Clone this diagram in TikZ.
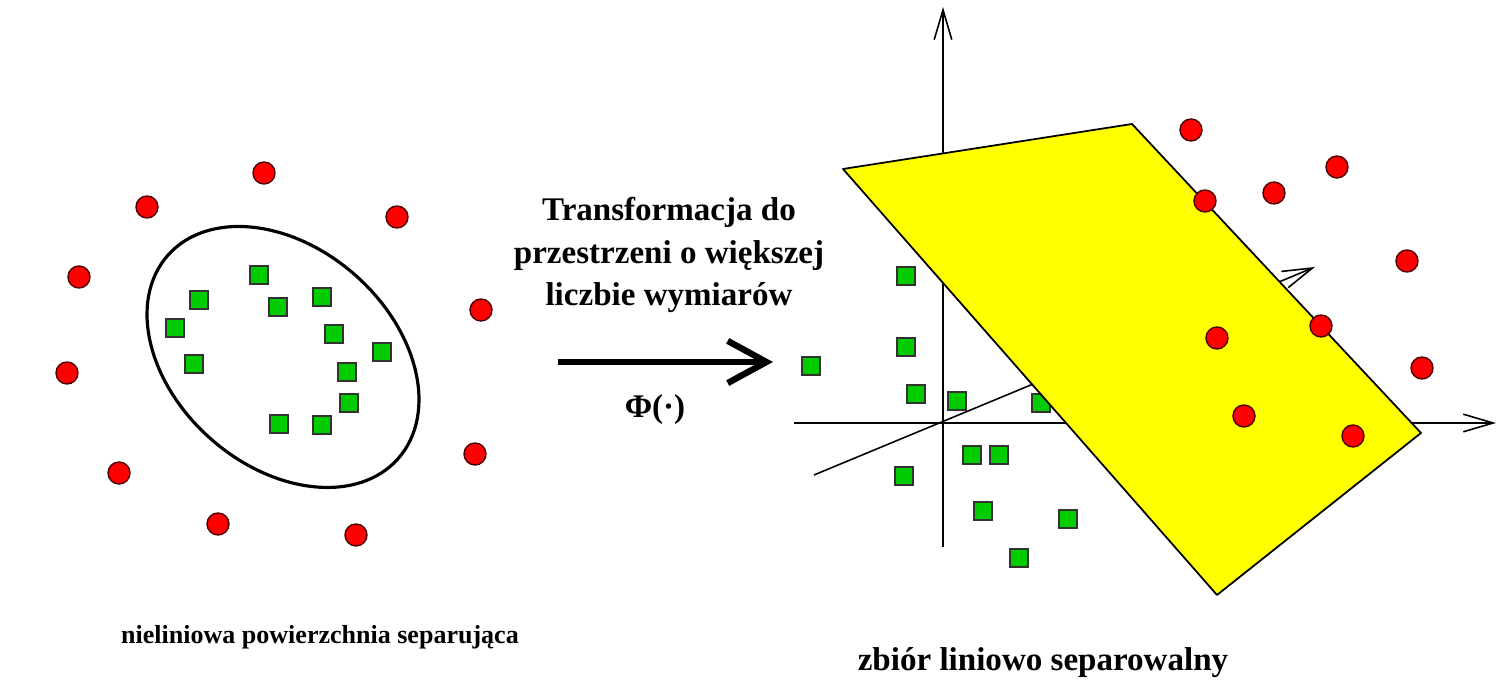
\documentclass[tikz,border=0pt]{standalone}
\usepackage{fontspec}
\setmainfont{Liberation Serif}
\usetikzlibrary{arrows.meta}
\definecolor{ptred}{HTML}{FF0000}
\definecolor{ptgreen}{HTML}{00CC00}
\definecolor{plane}{HTML}{FFFF00}
\tikzset{
  redpt/.style={circle, fill=ptred, draw=black!70!red, line width=0.4pt, minimum size=0.22cm, inner sep=0pt},
  greenpt/.style={rectangle, fill=ptgreen, draw=black!80, line width=0.45pt, minimum size=0.18cm, inner sep=0pt},
  axis/.style={line width=0.45pt, -{Straight Barb[length=8.5pt, width=5pt, line width=0.45pt]}},
  lbl/.style={align=center, inner sep=0pt},
}
\begin{document}
\begin{tikzpicture}[x=0.01cm, y=-0.01cm]
\useasboundingbox (0,0) rectangle (1499,680);

% ---- left panel ----
\coordinate (ec) at (283,357);
\draw[line width=0.9pt, rotate around={-41.4:(ec)}] (ec) ellipse [x radius=153.6, y radius=109.2];

\foreach \n/\x/\y in {a/264/173, b/147/207, c/397/217, d/79/277, e/481/310,
  f/67/373, g/475/454, h/119/473, i/218/524, j/356/535}
  \node[redpt] (L\n) at (\x,\y) {};
\foreach \n/\x/\y in {a/259/275, b/199/300, c/322/297, d/278/307, e/175/328,
  f/334/334, g/382/352, h/194/364, i/347/372, j/349/403, k/279/424, l/322/425}
  \node[greenpt] (S\n) at (\x,\y) {};

% ---- middle ----
\node[lbl, font=\fontsize{9.4pt}{12pt}\selectfont\bfseries] (title) at (669,255) {Transformacja do\\przestrzeni o większej\\liczbie wymiarów};
\coordinate (as) at (558,362);
\coordinate (ae) at (773,362);
\draw[line width=1.8pt, -{Straight Barb[length=11pt, width=12pt, line width=1.8pt]}] (as) -- (ae);
\node[lbl, font=\fontsize{9.4pt}{12pt}\selectfont\bfseries] (phi) at (655,410) {Φ(·)};

% ---- right panel: axes ----
\coordinate (O) at (943,423);
\coordinate (vb) at (943,547);
\coordinate (vt) at (943,7);
\coordinate (hl) at (794,423);
\coordinate (hr) at (1496,423);
\coordinate (dl) at (814,475);
\coordinate (dr) at (1315,267);
\draw[axis] (vb) -- (vt);
\draw[axis] (hl) -- (hr);
\draw[axis] (dl) -- (dr);

% points behind plane
\node[greenpt] (Rf) at (1041,403) {};

% plane
\coordinate (p1) at (843,169);
\coordinate (p2) at (1132,124);
\coordinate (p3) at (1421,433);
\coordinate (p4) at (1217,595);
\draw[fill=plane, line width=0.5pt, line join=round] (p1) -- (p2) -- (p3) -- (p4) -- cycle;

\foreach \n/\x/\y in {a/906/276, b/906/347, c/811/366, d/916/394, e/957/401,
  g/972/455, h/999/455, i/904/476, j/983/511, k/1068/519, l/1019/558}
  \node[greenpt] (R\n) at (\x,\y) {};
\foreach \n/\x/\y in {a/1191/130, b/1337/167, c/1274/193, d/1205/201, e/1407/261,
  f/1321/326, g/1217/338, h/1422/368, i/1244/416, j/1353/436}
  \node[redpt] (C\n) at (\x,\y) {};

% ---- captions ----
\node[lbl, font=\fontsize{7.4pt}{9pt}\selectfont\bfseries] (capl) at (320,637) {nieliniowa powierzchnia separująca};
\node[lbl, font=\fontsize{9.4pt}{12pt}\selectfont\bfseries] (capr) at (1043,663) {zbiór liniowo separowalny};
\end{tikzpicture}
\end{document}
